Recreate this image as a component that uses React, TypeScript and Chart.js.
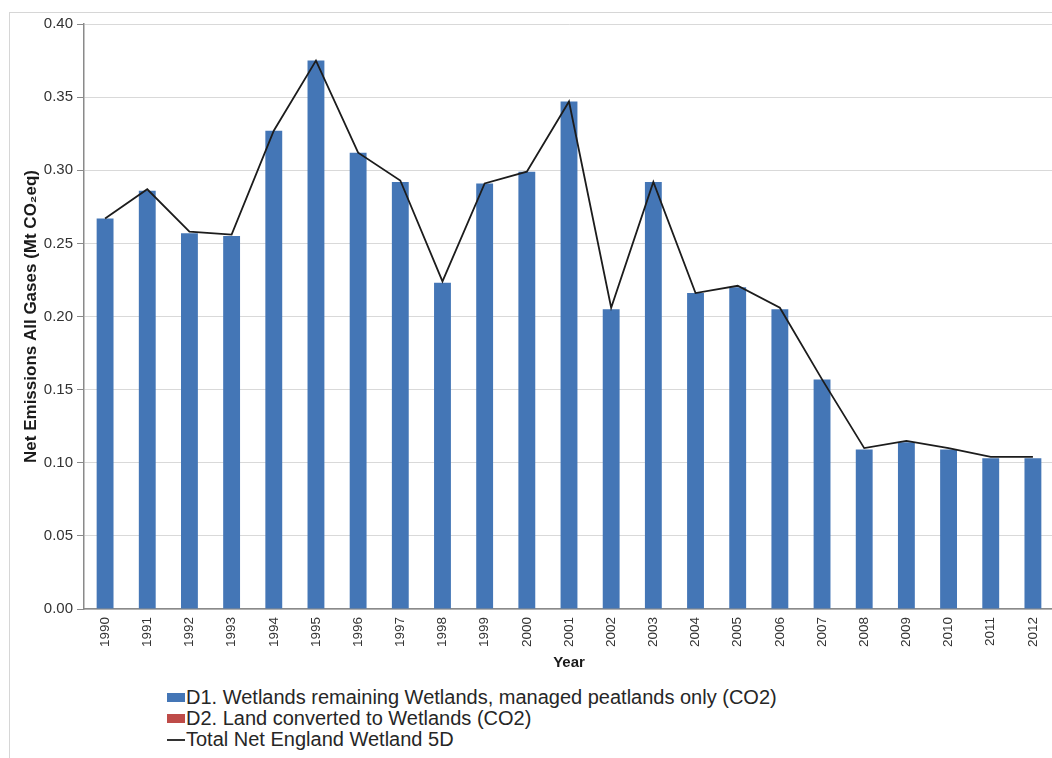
import React, { useEffect, useRef } from "react";
import { Chart, registerables } from "chart.js";

Chart.register(...registerables);

const years = [
  "1990", "1991", "1992", "1993", "1994", "1995", "1996", "1997", "1998", "1999", "2000",
  "2001", "2002", "2003", "2004", "2005", "2006", "2007", "2008", "2009", "2010", "2011", "2012",
];

const d1Values = [
  0.267, 0.286, 0.257, 0.255, 0.327, 0.375, 0.312, 0.292, 0.223, 0.291, 0.299,
  0.347, 0.205, 0.292, 0.216, 0.220, 0.205, 0.157, 0.109, 0.114, 0.109, 0.103, 0.103,
];

const d2Values = [
  0, 0, 0, 0, 0, 0, 0, 0, 0, 0, 0,
  0, 0, 0, 0, 0, 0, 0, 0, 0, 0, 0, 0,
];

const totalValues = [
  0.267, 0.287, 0.258, 0.256, 0.327, 0.375, 0.312, 0.293, 0.224, 0.291, 0.299,
  0.347, 0.206, 0.292, 0.216, 0.221, 0.206, 0.157, 0.110, 0.115, 0.110, 0.104, 0.104,
];

const seriesNames = [
  "D1. Wetlands remaining Wetlands, managed peatlands only (CO2)",
  "D2. Land converted to Wetlands (CO2)",
  "Total Net England Wetland 5D",
];

const seriesColors = ["#4476B6", "#BE4B48", "#1c1c1c"];

const yAxisTitle = "Net Emissions All Gases (Mt CO\u2082eq)";
const xAxisTitle = "Year";

const CANVAS_W = 1064;
const CANVAS_H = 676;
const AREA_LEFT = 84;
const AREA_RIGHT = 1054;
const AREA_TOP = 24;
const AREA_BOTTOM = 609;
const PAD_LEFT = 10;

const FONT = "'Liberation Sans', Arial, sans-serif";

export default function App() {
  const canvasRef = useRef<HTMLCanvasElement | null>(null);

  useEffect(() => {
    const canvas = canvasRef.current;
    if (!canvas) return;
    const chart = new Chart(canvas, {
      type: "bar",
      data: {
        labels: years,
        datasets: [
          {
            type: "bar",
            label: seriesNames[0],
            data: d1Values,
            backgroundColor: seriesColors[0],
            borderWidth: 0,
            barPercentage: 0.4,
            categoryPercentage: 1,
            stack: "s",
            order: 1,
          },
          {
            type: "bar",
            label: seriesNames[1],
            data: d2Values,
            backgroundColor: seriesColors[1],
            borderWidth: 0,
            barPercentage: 0.4,
            categoryPercentage: 1,
            stack: "s",
            order: 1,
          },
          {
            type: "line",
            label: seriesNames[2],
            data: totalValues,
            borderColor: seriesColors[2],
            backgroundColor: seriesColors[2],
            borderWidth: 1.8,
            pointRadius: 0,
            tension: 0,
            fill: false,
            order: 0,
          } as any,
        ],
      },
      options: {
        responsive: false,
        animation: false,
        layout: {
          padding: { left: PAD_LEFT, top: AREA_TOP, right: CANVAS_W - AREA_RIGHT, bottom: 0 },
        },
        plugins: {
          legend: { display: false },
          tooltip: { enabled: false },
        },
        scales: {
          x: {
            stacked: true,
            grid: { display: false, drawTicks: false },
            border: { display: true, color: "#8a8a8a", width: 1.5 },
            ticks: {
              autoSkip: false,
              minRotation: 90,
              maxRotation: 90,
              padding: 8,
              color: "#333333",
              font: { family: FONT, size: 13.5 },
            },
            title: {
              display: true,
              text: xAxisTitle,
              color: "#1a1a1a",
              font: { family: FONT, size: 15, weight: "bold" },
              padding: { top: 0, bottom: 4 },
            },
            afterFit: (scale: any) => {
              scale.height = CANVAS_H - AREA_BOTTOM;
            },
          },
          y: {
            stacked: true,
            min: 0,
            max: 0.4,
            grid: {
              color: "#d9d9d9",
              lineWidth: 1,
              drawTicks: true,
              tickLength: 7,
              tickColor: "#8a8a8a",
            },
            border: { display: true, color: "#8a8a8a", width: 1.5 },
            ticks: {
              stepSize: 0.05,
              padding: 4,
              color: "#333333",
              font: { family: FONT, size: 15 },
              callback: (v: any) => Number(v).toFixed(2),
            },
            title: {
              display: true,
              text: yAxisTitle,
              color: "#1a1a1a",
              font: { family: FONT, size: 17, weight: "bold" },
              padding: { top: 11, bottom: 0 },
            },
            afterFit: (scale: any) => {
              scale.width = AREA_LEFT - PAD_LEFT;
            },
          },
        },
      },
    });
    return () => chart.destroy();
  }, []);

  return (
    <div
      style={{
        position: "fixed",
        left: 0,
        top: 0,
        width: 1052,
        height: 758,
        overflow: "hidden",
        background: "#ffffff",
      }}
    >
      <div
        style={{
          position: "absolute",
          left: 9,
          top: 12,
          width: 1100,
          height: 800,
          borderLeft: "1.5px solid #d6d6d6",
          borderTop: "1.5px solid #d6d6d6",
        }}
      />
      <canvas
        ref={canvasRef}
        width={CANVAS_W}
        height={CANVAS_H}
        style={{ position: "absolute", left: 0, top: 0, width: CANVAS_W, height: CANVAS_H }}
      />
      <div
        style={{
          position: "absolute",
          left: 167,
          top: 687,
          fontFamily: FONT,
          fontSize: 20,
          lineHeight: "21px",
          color: "#262626",
          whiteSpace: "nowrap",
        }}
      >
        {seriesNames.map((name, i) => (
          <div key={name} style={{ display: "flex", alignItems: "center", height: 21 }}>
            {i < 2 ? (
              <span
                style={{
                  display: "inline-block",
                  width: 18,
                  height: 9,
                  background: seriesColors[i],
                  marginRight: 1,
                }}
              />
            ) : (
              <span
                style={{
                  display: "inline-block",
                  width: 18,
                  height: 2,
                  background: "#333333",
                  marginRight: 1,
                }}
              />
            )}
            <span>{name}</span>
          </div>
        ))}
      </div>
    </div>
  );
}
